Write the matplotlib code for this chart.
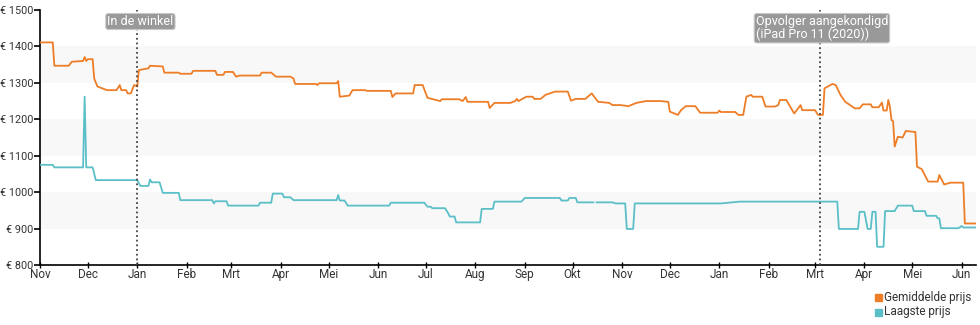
import pandas as pd
import numpy as np
import matplotlib
matplotlib.use("Agg")
import matplotlib.pyplot as plt
import matplotlib.dates as mdates
from matplotlib.patches import Rectangle

plt.rcParams["font.family"] = ["Roboto", "DejaVu Sans"]

# average price across shops (EUR)
avg_dates = [
    "2018-11-01", "2018-11-09", "2018-11-10", "2018-11-19", "2018-11-21", "2018-11-28",
    "2018-11-29", "2018-11-30", "2018-12-01", "2018-12-04", "2018-12-05", "2018-12-07",
    "2018-12-10", "2018-12-13", "2018-12-19", "2018-12-21", "2018-12-22", "2018-12-25",
    "2018-12-26", "2018-12-28", "2018-12-30", "2019-01-01", "2019-01-02", "2019-01-08",
    "2019-01-09", "2019-01-17", "2019-01-18", "2019-01-27", "2019-01-28", "2019-02-04",
    "2019-02-05", "2019-02-19", "2019-02-20", "2019-02-24", "2019-02-25", "2019-03-02",
    "2019-03-04", "2019-03-06", "2019-03-19", "2019-03-20", "2019-03-26", "2019-03-29",
    "2019-04-07", "2019-04-09", "2019-04-10", "2019-04-23", "2019-04-24", "2019-04-25",
    "2019-05-06", "2019-05-07", "2019-05-08", "2019-05-14", "2019-05-16", "2019-05-24",
    "2019-05-25", "2019-06-09", "2019-06-10", "2019-06-12", "2019-06-23", "2019-06-24",
    "2019-06-29", "2019-07-02", "2019-07-10", "2019-07-11", "2019-07-22", "2019-07-24",
    "2019-07-26", "2019-07-27", "2019-08-09", "2019-08-10", "2019-08-13", "2019-08-23",
    "2019-08-26", "2019-08-27", "2019-08-28", "2019-09-02", "2019-09-06", "2019-09-07",
    "2019-09-11", "2019-09-14", "2019-09-20", "2019-09-28", "2019-09-30", "2019-10-03",
    "2019-10-09", "2019-10-13", "2019-10-17", "2019-10-24", "2019-10-26", "2019-10-31",
    "2019-11-05", "2019-11-10", "2019-11-16", "2019-11-25", "2019-11-30", "2019-12-01",
    "2019-12-06", "2019-12-08", "2019-12-11", "2019-12-17", "2019-12-20", "2019-12-31",
    "2020-01-01", "2020-01-02", "2020-01-11", "2020-01-13", "2020-01-16", "2020-01-18",
    "2020-01-21", "2020-01-22", "2020-01-28", "2020-01-30", "2020-02-05", "2020-02-07",
    "2020-02-08", "2020-02-12", "2020-02-17", "2020-02-21", "2020-02-22", "2020-03-01",
    "2020-03-03", "2020-03-06", "2020-03-07", "2020-03-12", "2020-03-14", "2020-03-17",
    "2020-03-20", "2020-03-26", "2020-03-29", "2020-03-31", "2020-04-05", "2020-04-06",
    "2020-04-10", "2020-04-12", "2020-04-13", "2020-04-15", "2020-04-16", "2020-04-17",
    "2020-04-18", "2020-04-19", "2020-04-20", "2020-04-22", "2020-04-25", "2020-04-27",
    "2020-05-03", "2020-05-04", "2020-05-07", "2020-05-11", "2020-05-17", "2020-05-18",
    "2020-05-21", "2020-05-25", "2020-06-02", "2020-06-03", "2020-06-10",
]
avg_prices = [
    1411, 1411, 1347, 1347, 1358, 1360,
    1371, 1360, 1365, 1365, 1312, 1290,
    1285, 1280, 1280, 1294, 1280, 1280,
    1271, 1271, 1294, 1290, 1335, 1340,
    1347, 1345, 1328, 1328, 1325, 1325,
    1333, 1333, 1322, 1322, 1330, 1330,
    1317, 1320, 1320, 1328, 1328, 1317,
    1317, 1312, 1297, 1297, 1294, 1299,
    1299, 1305, 1262, 1265, 1280, 1280,
    1278, 1278, 1261, 1271, 1271, 1294,
    1294, 1259, 1250, 1255, 1255, 1250,
    1261, 1248, 1248, 1231, 1245, 1245,
    1250, 1256, 1250, 1262, 1262, 1256,
    1256, 1267, 1276, 1276, 1251, 1256,
    1256, 1271, 1248, 1245, 1239, 1239,
    1236, 1245, 1250, 1250, 1248, 1221,
    1212, 1225, 1236, 1236, 1218, 1218,
    1224, 1220, 1220, 1212, 1212, 1262,
    1267, 1262, 1262, 1235, 1235, 1239,
    1253, 1253, 1216, 1239, 1225, 1225,
    1212, 1212, 1285, 1297, 1294, 1267,
    1248, 1230, 1230, 1241, 1241, 1233,
    1233, 1246, 1224, 1224, 1253, 1235,
    1198, 1195, 1125, 1152, 1150, 1168,
    1165, 1070, 1063, 1029, 1029, 1047,
    1021, 1026, 1026, 914, 914,
]

# lowest price (EUR); None marks a day without data
low_dates = [
    "2018-11-01", "2018-11-09", "2018-11-10", "2018-11-28", "2018-11-29", "2018-11-30",
    "2018-12-04", "2018-12-06", "2019-01-01", "2019-01-03", "2019-01-08", "2019-01-09",
    "2019-01-10", "2019-01-15", "2019-01-17", "2019-01-27", "2019-01-28", "2019-02-17",
    "2019-02-18", "2019-02-19", "2019-02-26", "2019-02-27", "2019-03-18", "2019-03-19",
    "2019-03-26", "2019-03-27", "2019-04-02", "2019-04-03", "2019-04-07", "2019-04-09",
    "2019-05-06", "2019-05-07", "2019-05-08", "2019-05-11", "2019-05-13", "2019-06-08",
    "2019-06-09", "2019-06-30", "2019-07-02", "2019-07-04", "2019-07-05", "2019-07-13",
    "2019-07-15", "2019-07-16", "2019-07-19", "2019-07-20", "2019-08-04", "2019-08-05",
    "2019-08-12", "2019-08-13", "2019-08-30", "2019-09-01", "2019-09-23", "2019-09-24",
    "2019-09-28", "2019-09-29", "2019-10-03", "2019-10-04", "2019-10-14", "2019-10-15",
    "2019-10-16", "2019-10-26", "2019-10-28", "2019-11-03", "2019-11-04", "2019-11-08",
    "2019-11-09", "2020-01-02", "2020-01-14", "2020-03-15", "2020-03-16", "2020-03-28",
    "2020-03-29", "2020-04-01", "2020-04-03", "2020-04-05", "2020-04-06", "2020-04-08",
    "2020-04-09", "2020-04-13", "2020-04-14", "2020-04-20", "2020-04-22", "2020-05-01",
    "2020-05-02", "2020-05-09", "2020-05-10", "2020-05-16", "2020-05-17", "2020-05-18",
    "2020-05-19", "2020-05-30", "2020-06-01", "2020-06-02", "2020-06-10",
]
low_prices = [
    1075, 1075, 1068, 1068, 1262, 1068,
    1068, 1033, 1033, 1017, 1017, 1035,
    1027, 1027, 998, 998, 978, 978,
    969, 975, 975, 963, 963, 971,
    971, 996, 996, 986, 986, 978,
    978, 992, 977, 977, 963, 963,
    971, 971, 960, 960, 956, 956,
    942, 933, 933, 917, 917, 954,
    954, 974, 974, 984, 984, 977,
    977, 984, 984, 972, 972, None,
    972, 972, 969, 969, 899, 899,
    969, 969, 974, 974, 899, 899,
    946, 946, 899, 899, 946, 946,
    850, 850, 948, 948, 963, 963,
    948, 948, 935, 935, 928, 928,
    901, 901, 907, 903, 903,
]

month_names = ["Jan", "Feb", "Mrt", "Apr", "Mei", "Jun",
               "Jul", "Aug", "Sep", "Okt", "Nov", "Dec"]
y_ticks = [800, 900, 1000, 1100, 1200, 1300, 1400, 1500]
bands = [(900, 1000), (1100, 1200), (1300, 1400)]

events = [
    ("2019-01-01", "In de winkel", -32),
    ("2020-03-04", "Opvolger aangekondigd\n(iPad Pro 11 (2020))", -66),
]

ORANGE = "#ee7d27"
TEAL = "#5bbfc8"
TEXT = "#333333"

avg = pd.Series(avg_prices, index=pd.to_datetime(avg_dates), dtype=float)
low = pd.Series(low_prices, index=pd.to_datetime(low_dates), dtype=float)

fig = plt.figure(figsize=(9.8, 3.25), dpi=100)
ax = fig.add_axes([40 / 980, 1 - 265 / 325, 936 / 980, 255 / 325])

for lo, hi in bands:
    ax.axhspan(lo, hi, color="#f8f8f8", lw=0, zorder=0)

ax.plot(avg.index, avg.values, color=ORANGE, lw=1.3, zorder=3)
ax.plot(low.index, low.values, color=TEAL, lw=1.3, zorder=3)

for day, label, dx in events:
    d = pd.Timestamp(day)
    ax.axvline(d, color="#444444", lw=1.3, ls=(0, (1, 1.6)), zorder=4)
    ax.annotate(label, xy=(d, 1), xycoords=("data", "axes fraction"),
                xytext=(dx + 2, -5), textcoords="offset pixels",
                ha="left", va="top", color="white", fontsize=9,
                linespacing=1.0, zorder=5,
                bbox=dict(boxstyle="round,pad=0.12,rounding_size=0.2",
                          fc="#999999", ec="#c8c8c8", lw=0.8))

ax.set_xlim(pd.Timestamp("2018-11-01"), pd.Timestamp("2020-06-10"))
ax.set_ylim(800, 1500)
ax.set_yticks(y_ticks)
ax.set_yticklabels([f"€ {v}" for v in y_ticks])

ax.xaxis.set_major_locator(mdates.MonthLocator())
ax.xaxis.set_major_formatter(
    plt.FuncFormatter(lambda v, pos: month_names[mdates.num2date(v).month - 1]))

for side in ["top", "right"]:
    ax.spines[side].set_visible(False)
for side in ["left", "bottom"]:
    ax.spines[side].set_color("black")
    ax.spines[side].set_linewidth(1.2)

ax.tick_params(axis="y", length=4, width=1.2, pad=1, labelsize=7.8, labelcolor=TEXT)
ax.tick_params(axis="x", direction="inout", length=5, width=1.0, pad=0,
               labelsize=8.5, labelcolor=TEXT)

# legend entries in the lower right corner
legend_items = [("Gemiddelde prijs", ORANGE), ("Laagste prijs", TEAL)]
for i, (name, col) in enumerate(legend_items):
    ypix = 297 + i * 15
    fig.patches.append(Rectangle((875 / 980, 1 - (ypix + 4) / 325), 7 / 980, 7 / 325,
                                 transform=fig.transFigure, color=col))
    fig.text(884 / 980, 1 - ypix / 325, name, fontsize=8.5, color=TEXT,
             ha="left", va="center")

fig.savefig("out.png", dpi=100)
